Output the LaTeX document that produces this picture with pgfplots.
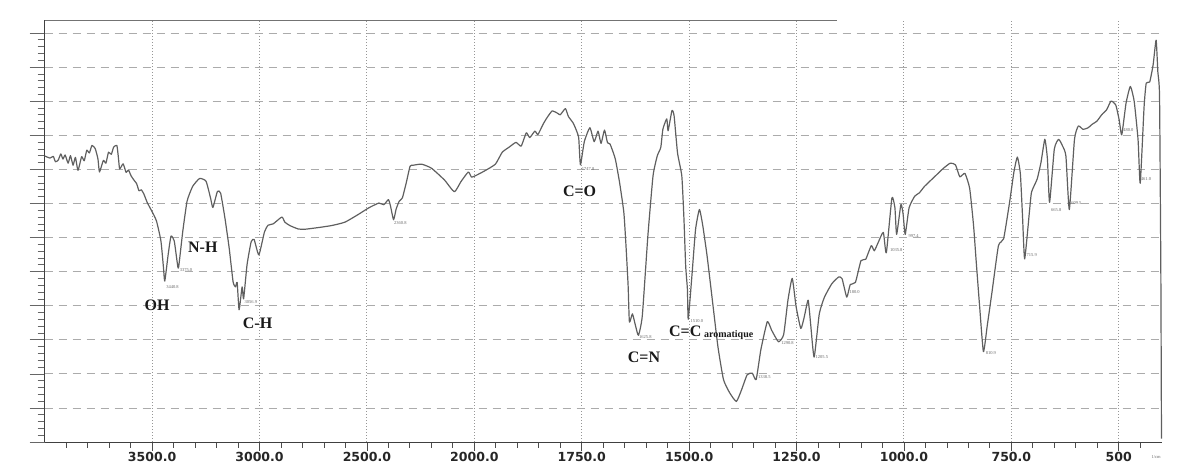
\documentclass[border=0pt]{standalone}
\usepackage{pgfplots}
\pgfplotsset{compat=1.18}
\usepackage{pgfplotstable}
\usepackage{fontspec}
\setmainfont{Liberation Serif}
\newfontfamily\tickfont{DejaVu Sans}
\definecolor{trace}{RGB}{95,95,95}
\definecolor{gridc}{RGB}{150,150,150}

\pgfplotstableread{
wn T
4000 8.39
3975 8.33
3960 8.38
3950 8.22
3937 8.27
3925 8.45
3915 8.30
3905 8.42
3891 8.18
3880 8.40
3868 8.12
3857 8.35
3845 7.97
3828 8.37
3816 8.25
3804 8.56
3792 8.48
3780 8.70
3765 8.61
3752 8.30
3745 7.92
3727 8.26
3715 8.18
3703 8.50
3690 8.44
3679 8.65
3664 8.70
3657 8.35
3651 8.01
3635 8.16
3621 7.91
3610 7.98
3598 7.81
3583 7.67
3572 7.58
3561 7.37
3550 7.40
3538 7.27
3523 7.03
3502 6.78
3480 6.49
3459 5.90
3447 5.11
3441 4.72
3425 5.51
3412 6.04
3397 5.90
3384 5.31
3377 5.11
3357 6.19
3337 7.07
3311 7.50
3279 7.73
3249 7.65
3228 7.16
3217 6.88
3196 7.35
3181 7.30
3161 6.57
3141 5.68
3123 4.70
3112 4.55
3104 4.68
3095 3.88
3081 4.55
3074 4.20
3058 5.20
3039 5.87
3025 5.94
3003 5.49
2977 6.16
2960 6.36
2936 6.40
2896 6.60
2882 6.45
2859 6.35
2820 6.25
2790 6.24
2727 6.29
2664 6.35
2602 6.45
2539 6.68
2491 6.87
2444 7.01
2421 6.96
2400 7.11
2390 6.92
2376 6.52
2364 6.83
2350 7.06
2335 7.16
2317 7.60
2299 8.09
2284 8.12
2245 8.15
2199 8.03
2138 7.68
2093 7.34
2062 7.64
2028 7.92
2013 7.77
1996 7.82
1975 7.96
1951 8.15
1935 8.50
1919 8.65
1903 8.79
1891 8.68
1879 9.07
1871 8.93
1859 9.12
1852 9.02
1840 9.32
1831 9.51
1819 9.71
1807 9.65
1800 9.60
1788 9.78
1781 9.55
1770 9.36
1763 9.16
1757 8.92
1753 8.13
1744 8.81
1731 9.22
1721 8.81
1712 9.12
1705 8.76
1697 9.15
1690 8.78
1684 8.74
1672 8.31
1662 7.62
1652 6.74
1647 5.77
1642 4.59
1639 3.52
1632 3.76
1625 3.42
1618 3.13
1609 3.70
1596 6.05
1584 7.81
1574 8.40
1566 8.64
1561 9.18
1552 9.48
1549 9.13
1540 9.72
1535 9.57
1527 8.48
1517 7.80
1512 6.53
1508 5.16
1504 4.48
1502 3.60
1493 4.96
1485 6.24
1476 6.82
1468 6.33
1458 5.44
1446 4.17
1433 2.80
1420 1.83
1405 1.43
1390 1.19
1378 1.53
1365 1.97
1353 2.02
1344 1.83
1333 2.71
1318 3.53
1308 3.28
1292 2.94
1280 3.15
1270 4.16
1260 4.80
1251 3.97
1240 3.33
1232 3.67
1223 4.16
1217 3.44
1209 2.49
1197 3.76
1185 4.25
1168 4.64
1152 4.84
1144 4.79
1133 4.25
1125 4.62
1113 4.68
1100 5.32
1089 5.36
1076 5.76
1069 5.61
1060 5.85
1048 6.15
1041 5.55
1028 7.16
1021 6.87
1017 6.09
1007 6.97
1002 6.69
997 6.09
988 6.87
975 7.21
964 7.31
952 7.50
928 7.79
908 8.03
892 8.18
880 8.13
870 7.78
858 7.88
847 7.44
838 6.36
832 5.33
824 4.01
815 2.65
806 3.42
795 4.40
780 5.76
768 5.96
754 7.04
744 7.92
736 8.36
729 7.87
724 6.64
719 5.37
708 6.74
703 7.33
690 7.71
681 8.20
672 8.88
666 8.30
661 7.03
650 8.59
640 8.88
631 8.69
623 8.39
615 6.82
603 8.88
594 9.27
583 9.17
571 9.22
562 9.32
551 9.41
539 9.61
528 9.75
518 10.00
507 9.89
499 9.45
493 9.01
483 9.94
473 10.43
464 9.99
455 8.86
450 7.59
441 9.84
436 10.53
428 10.56
420 11.06
413 11.79
409 10.86
405 10.13
402 5.00
400.5 0.10
}\spectrum

\begin{document}
\begin{tikzpicture}
\useasboundingbox (-44.7pt,-31pt) rectangle (1157.3pt,442pt);
\begin{axis}[
  scale only axis, width=1117pt, height=422pt,
  x coord trafo/.code={\pgfmathparse{#1>=2000 ? (4000-#1)/500 : 4+(2000-#1)/250}},
  xmin=4000, xmax=400, ymin=0, ymax=12.38,
  axis x line*=bottom, axis y line*=left,
  axis line style={black!75, line width=0.9pt},
  clip=false,
  tick align=outside,
  xtick={3500,3000,2500,2000,1750,1500,1250,1000,750,500},
  xticklabels={3500.0,3000.0,2500.0,2000.0,1750.0,1500.0,1250.0,1000.0,750.0,500},
  minor xtick={3900,3800,3700,3600,3400,3300,3200,3100,2900,2800,2700,2600,2400,2300,2200,2100,1950,1900,1850,1800,1700,1650,1600,1550,1450,1400,1350,1300,1200,1150,1100,1050,950,900,850,800,700,650,600,550,450},
  xticklabel style={font=\tickfont\bfseries\fontsize{12.5}{12.5}\selectfont, text=black!85, yshift=-2pt},
  xtick style={black!70, line width=0.8pt, /pgfplots/major tick length=9pt, /pgfplots/minor tick length=6pt},
  ytick={0,1,...,12},
  yticklabels={},
  minor y tick num=4,
  ytick style={black!60, line width=0.6pt, /pgfplots/major tick length=15pt, /pgfplots/minor tick length=7pt},
  xmajorgrids, ymajorgrids,
  x grid style={gridc, line width=0.9pt, dash pattern=on 1.2pt off 1.8pt},
  y grid style={gridc!80, line width=0.8pt, dash pattern=on 8pt off 6pt},
]
\addplot[trace, line width=1.2pt, line join=round, smooth, tension=0.3] table[x=wn, y=T] {\spectrum};

\draw[black!55, line width=0.8pt] (axis cs:4000,12.38) -- (axis cs:1155,12.38);

\begin{scope}[font=\bfseries\fontsize{16}{16}\selectfont, text=black!90]
\node at (axis cs:3477,4.02) {OH};
\node at (axis cs:3264,5.72) {N-H};
\node at (axis cs:3009,3.49) {C-H};
\node at (axis cs:1755,7.36) {C=O};
\node at (axis cs:1605,2.49) {C=N};
\node[anchor=base west, inner sep=0pt] at (axis cs:1547,3.10) {C=C\,\raisebox{-1pt}{\fontsize{10}{10}\selectfont aromatique}};
\end{scope}

\begin{scope}[font=\fontsize{4.5}{4.5}\selectfont, text=black!60, anchor=west, inner sep=0.5pt]
\node at (axis cs:3437,4.55) {3440.8};
\node at (axis cs:3374,5.05) {3375.0};
\node at (axis cs:3072,4.11) {3056.9};
\node at (axis cs:2376,6.43) {2360.8};
\node at (axis cs:1751,8.01) {1747.8};
\node at (axis cs:1618,3.08) {1625.8};
\node at (axis cs:1498,3.55) {1510.0};
\node at (axis cs:1341,1.91) {1338.5};
\node at (axis cs:1287,2.90) {1290.8};
\node at (axis cs:1207,2.49) {1205.5};
\node at (axis cs:1133,4.40) {1180.0};
\node at (axis cs:1034,5.63) {1035.8};
\node at (axis cs:991,6.04) {997.4};
\node at (axis cs:811,2.61) {810.9};
\node at (axis cs:716,5.49) {715.9};
\node at (axis cs:659,6.81) {665.8};
\node at (axis cs:612,7.01) {609.5};
\node at (axis cs:491,9.15) {480.0};
\node at (axis cs:450,7.72) {461.0};
\node at (axis cs:425,-0.45) {1/cm};
\end{scope}
\end{axis}
\end{tikzpicture}
\end{document}
